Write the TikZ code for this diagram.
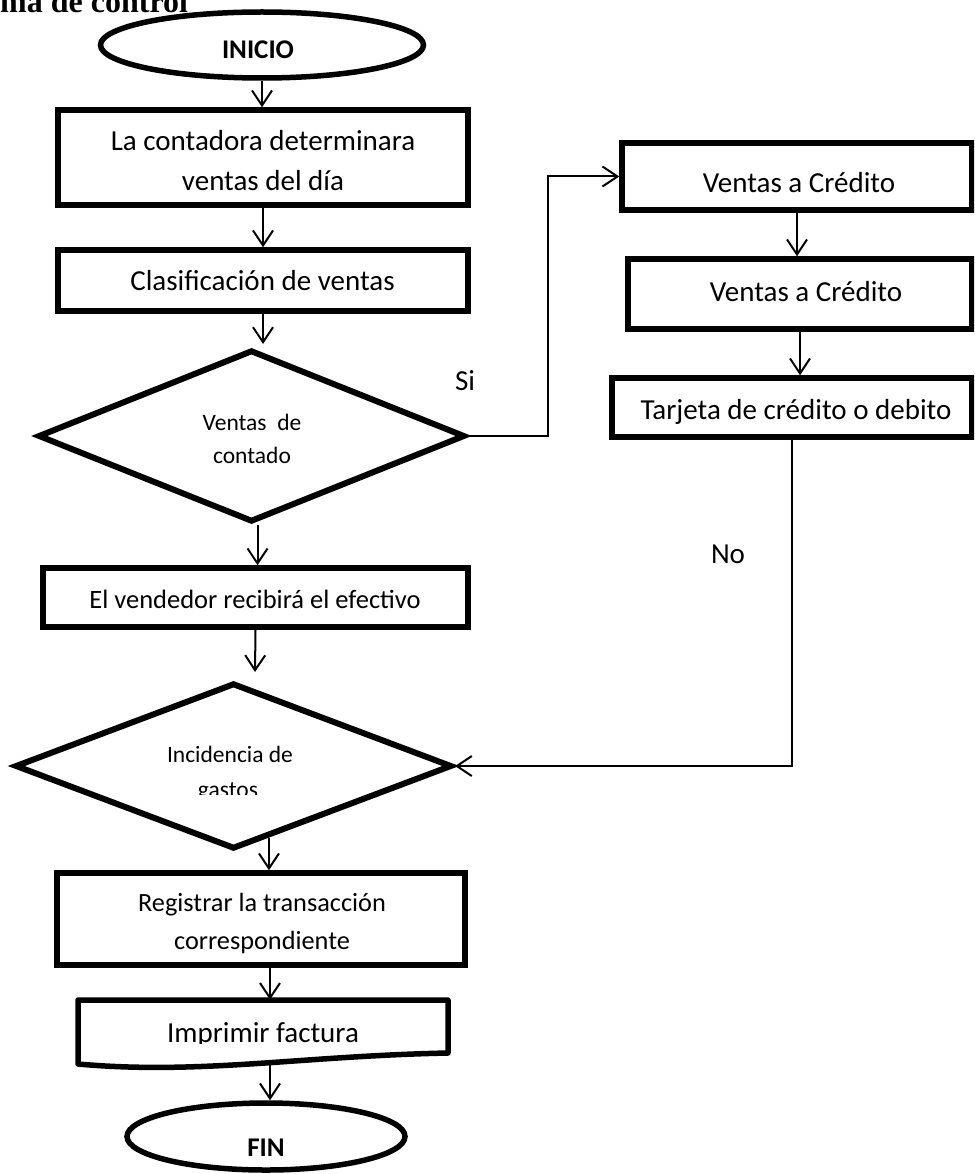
\documentclass[tikz,border=0pt]{standalone}
\usepackage{fontspec}
\setmainfont{Carlito}
\newfontfamily\titlefont{Liberation Serif}
\usetikzlibrary{arrows.meta,shapes.geometric,calc}
\begin{document}
\begin{tikzpicture}[x=1pt,y=-1pt,
  box/.style={draw,line width=5.5pt,rectangle,inner sep=0pt},
  term/.style={draw,line width=5.5pt,ellipse,inner sep=0pt},
  decision/.style={draw,line width=6pt,diamond,inner sep=0pt},
  conn/.style={line width=2pt,-{Straight Barb[length=15pt,width=20pt,line width=2pt]}},
  lbl/.style={inner sep=0pt,anchor=base,font=\fontsize{29}{35}\selectfont},
  small/.style={inner sep=0pt,anchor=base,font=\fontsize{23.5}{28}\selectfont},
  bold/.style={inner sep=0pt,anchor=base,font=\fontsize{27}{32}\selectfont\bfseries}
]
\useasboundingbox (0,0) rectangle (974,1174);
\clip (0,0) rectangle (974,1174);

% title (cut at top)
\node[inner sep=0pt,anchor=base west,font=\fontsize{32}{36}\titlefont\bfseries] (title) at (0,13) {ma de control};

% terminals
\node[term,minimum width=323pt,minimum height=66pt] (inicio) at (262,45) {};
\begin{scope}
  \clip (100,0) rectangle (430,58.3);
  \node[bold] (inicioT) at (258,59) {INICIO};
\end{scope}
\node[term,minimum width=278pt,minimum height=67pt] (fin) at (266,1136.5) {};
\node[bold] (finT) at (266,1156) {FIN};

% process boxes
\node[box,minimum width=410pt,minimum height=95pt] (b1) at (263,157.5) {};
\node[lbl] (t1a) at (263,151) {La contadora determinara};
\node[lbl] (t1b) at (263,191) {ventas del día};

\node[box,minimum width=410pt,minimum height=61pt] (b2) at (263,280.5) {};
\node[lbl] (t2) at (262.5,290) {Clasificación de ventas};

\node[box,minimum width=350pt,minimum height=67pt] (b3) at (797,176.5) {};
\node[lbl] (t3) at (799,193) {Ventas a Crédito};

\node[box,minimum width=344pt,minimum height=70pt] (b4) at (800,294) {};
\node[lbl] (t4) at (806,301) {Ventas a Crédito};

\node[box,minimum width=360pt,minimum height=59pt] (b5) at (792,407.5) {};
\node[lbl] (t5) at (796,419) {Tarjeta de crédito o debito};

\node[box,minimum width=425pt,minimum height=59pt] (b6) at (255.5,597.5) {};
\node[lbl,font=\fontsize{26.5}{30}\selectfont] (t6) at (255,608) {El vendedor recibirá el efectivo};

\node[box,minimum width=408pt,minimum height=92pt] (b7) at (261,919) {};
\node[lbl,font=\fontsize{26.3}{30}\selectfont] (t7a) at (262,911) {Registrar la transacción};
\node[lbl,font=\fontsize{26.3}{30}\selectfont] (t7b) at (262,949) {correspondiente};

% document shape
\node[inner sep=0pt,minimum width=370pt,minimum height=65pt] (doc) at (263,1032.5) {};
\draw[line width=5.5pt,line join=round] (78,1000) -- (448,1000) -- (448,1053)
  .. controls (300,1056) and (200,1075) .. (78,1064) -- cycle;
\begin{scope}
  \clip (80,1002) rectangle (446,1043.5);
  \node[lbl] (t8) at (263,1042) {Imprimir factura};
\end{scope}

% decisions
\node[decision,minimum width=427pt,minimum height=172pt] (d1) at (251.5,436) {};
\node[small] (d1a) at (252,430) {Ventas\ \ de};
\node[small] (d1b) at (252,463) {contado};

\node[decision,minimum width=437pt,minimum height=166pt] (d2) at (233.5,766) {};
\node[small] (d2a) at (230,762) {Incidencia de};
\begin{scope}
  \clip (100,770) rectangle (400,794);
  \node[small] (d2b) at (228,797) {gastos};
\end{scope}

% labels
\node[lbl] (si) at (465,390) {Si};
\node[lbl] (no) at (728,563) {No};

% connectors
\coordinate (a5) at (255,672);
\coordinate (d2o) at ($(d2.south)!0.16!(d2.east)$);
\draw[conn] (inicio.south) -- (inicio.south |- b1.north);
\draw[conn] (b1.south) -- (b2.north);
\draw[conn] (b2.south) -- ([yshift=3pt]b2.south |- d1.north);
\draw[conn] ([xshift=6pt]d1.south) -- ([xshift=6pt]d1.south |- b6.north);
\draw[conn] (b6.south) -- (a5);
\draw[conn] (d2o) -- (d2o |- b7.north);
\draw[conn] ([xshift=9pt]b7.south) -- ([xshift=9pt]b7.south |- doc.north);
\draw[conn] ([xshift=4pt]fin.north |- doc.south) -- ([xshift=4pt]fin.north);
\draw[conn] (b3.south) -- (b3.south |- b4.north);
\draw[conn] (b4.south) -- (b4.south |- b5.north);
\draw[conn] (d1.east) -- ++(80,0) |- (b3.west);
\draw[conn] (b5.south) |- (d2.east);
\end{tikzpicture}
\end{document}
